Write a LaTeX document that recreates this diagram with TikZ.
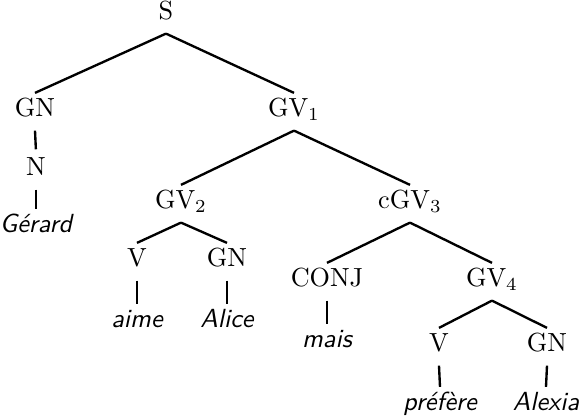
\documentclass[tikz,border=0pt]{standalone}
\usepackage{tikz}
\tikzset{
  cat/.style    = {anchor=base, inner sep=2pt, text height=7pt, text depth=3pt},
  word/.style   = {anchor=base, inner sep=2pt, text height=7pt, text depth=0pt, font=\sffamily\itshape},
  branch/.style = {line width=0.9pt, black},
  unary/.style  = {branch, shorten >=1pt},
}
\begin{document}
\begin{tikzpicture}[x=0.3817pt, y=-0.3817pt]
  \useasboundingbox (0,0) rectangle (580,418);
  % categories
  \node[cat] (s)    at (166, 20) {S};
  \node[cat] (gn)   at (35, 117) {GN};
  \node[cat] (gv1)  at (294,117) {GV$_1$};
  \node[cat] (n)    at (36, 176) {N};
  \node[cat] (gv2)  at (181,209) {GV$_2$};
  \node[cat] (cgv3) at (410,209) {cGV$_3$};
  \node[cat] (v1)   at (137,267) {V};
  \node[cat] (gn2)  at (227,267) {GN};
  \node[cat] (conj) at (327,287) {CONJ};
  \node[cat] (gv4)  at (492,287) {GV$_4$};
  \node[cat] (v2)   at (439,352) {V};
  \node[cat] (gn3)  at (547,352) {GN};
  % words
  \node[word] (gerard)  at (36, 233) {Gérard};
  \node[word] (aime)    at (137,328) {aime};
  \node[word] (alice)   at (227,328) {Alice};
  \node[word] (mais)    at (327,348) {mais};
  \node[word] (prefere) at (440,411) {préfère};
  \node[word] (alexia)  at (546,411) {Alexia};
  % branches
  \draw[branch] (s.south) -- (gn.north);
  \draw[branch] (s.south) -- (gv1.north);
  \draw[unary]  (gn.south) -- (n.north);
  \draw[branch] (n.south) -- (gerard.north);
  \draw[branch] (gv1.south) -- (gv2.north);
  \draw[branch] (gv1.south) -- (cgv3.north);
  \draw[branch] (gv2.south) -- (v1.north);
  \draw[branch] (gv2.south) -- (gn2.north);
  \draw[branch] (v1.south) -- (aime.north);
  \draw[branch] (gn2.south) -- (alice.north);
  \draw[branch] (cgv3.south) -- (conj.north);
  \draw[branch] (cgv3.south) -- (gv4.north);
  \draw[branch] (conj.south) -- (mais.north);
  \draw[branch] (gv4.south) -- (v2.north);
  \draw[branch] (gv4.south) -- (gn3.north);
  \draw[branch] (v2.south) -- (prefere.north);
  \draw[branch] (gn3.south) -- (alexia.north);
\end{tikzpicture}
\end{document}
